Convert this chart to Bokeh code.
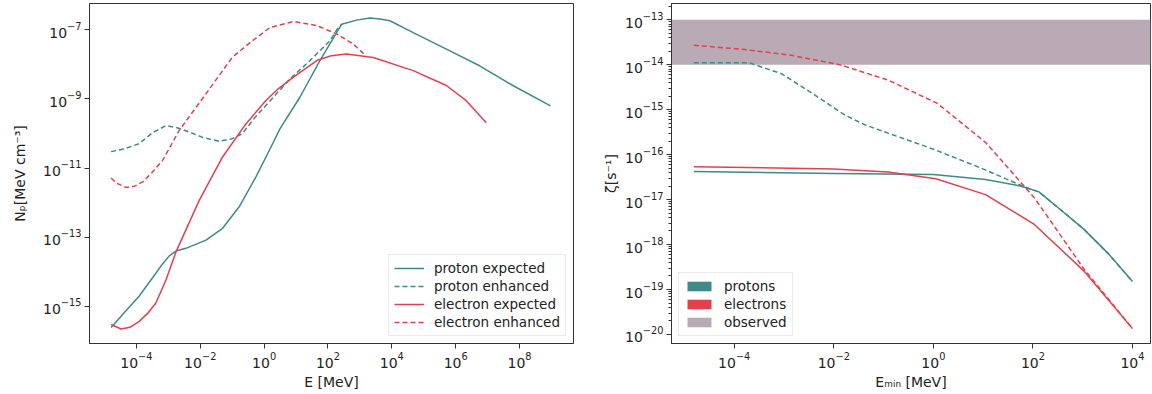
from bokeh.plotting import figure
from bokeh.layouts import row
from bokeh.models import FixedTicker, BoxAnnotation, Legend, LegendItem, Range1d
from bokeh.embed import file_html
from bokeh.resources import INLINE

# ---------------- data: left panel (spectra) ----------------
E_p_exp = [1.62e-5, 3.7e-5, 1.23e-4, 4.07e-4, 6.6e-4, 1.07e-3, 1.74e-3, 3.55e-3, 1.51e-2, 5.0e-2, 0.166, 0.55, 1.45,
           3.16, 13.2, 56, 269, 794, 2040, 4270, 8710, 4.68e4, 5.13e5, 5.62e6, 6.17e7, 9.33e8]
N_p_exp = [2.45e-16, 5.9e-16, 2.0e-15, 9.1e-15, 1.7e-14, 2.9e-14, 4.0e-14, 4.8e-14, 8.3e-14, 1.82e-13, 7.6e-13, 5.5e-12,
           3.24e-11, 1.38e-10, 1.12e-9, 1.29e-8, 1.45e-7, 1.9e-7, 2.19e-7, 2.04e-7, 1.82e-7, 8.3e-8, 2.75e-8,
           9.1e-9, 2.45e-9, 6.3e-10]

E_p_enh = [1.62e-5, 3.98e-5, 1.23e-4, 3.16e-4, 8.5e-4, 2.0e-3, 4.57e-3, 1.26e-2, 3.89e-2, 0.1,
           0.209, 0.5, 1.55, 6.46, 27.5, 115, 195, 269]
N_p_enh = [3.0e-11, 3.55e-11, 5.1e-11, 1.05e-10, 1.7e-10, 1.45e-10, 1.1e-10, 7.6e-11, 6.0e-11, 7.1e-11,
           1.0e-10, 2.8e-10, 8.9e-10, 3.8e-9, 1.29e-8, 4.8e-8, 1.05e-7, 1.45e-7]

E_e_exp = [1.62e-5, 3.31e-5, 6.3e-5, 1.23e-4, 2.24e-4, 4.07e-4, 8.5e-4, 1.74e-3, 9.3e-3, 5.0e-2, 0.269,
           1.12, 2.82, 8.3, 44.7, 126, 380, 2630, 4.68e4, 5.13e5, 2.14e6, 9.1e6]
N_e_exp = [3.0e-16, 2.24e-16, 2.5e-16, 3.7e-16, 6.3e-16, 1.26e-15, 5.9e-15, 3.8e-14, 1.17e-12, 2.1e-11, 1.9e-10,
           8.9e-10, 2.0e-9, 4.27e-9, 1.29e-8, 1.78e-8, 2.0e-8, 1.58e-8, 6.6e-9, 2.45e-9, 8.9e-10, 2.04e-10]

E_e_enh = [1.62e-5, 2.34e-5, 4.8e-5, 8.7e-5, 1.58e-4, 3.24e-4, 6.6e-4, 2.19e-3, 1.05e-2, 0.1, 0.363,
           1.55, 8.3, 44.7, 186, 617, 1450]
N_e_enh = [5.2e-12, 3.7e-12, 2.75e-12, 3.0e-12, 4.0e-12, 7.8e-12, 1.66e-11, 1.23e-10, 8.9e-10, 1.58e-8, 4.27e-8,
           1.17e-7, 1.74e-7, 1.32e-7, 7.6e-8, 3.9e-8, 1.86e-8]

left_xticks = [1e-4, 1e-2, 1e0, 1e2, 1e4, 1e6, 1e8]
left_yticks = [1e-15, 1e-13, 1e-11, 1e-9, 1e-7]

# ---------------- data: right panel (ionisation rates) ----------------
Emin_p_exp = [1.55e-5, 1e-2, 1.0, 11.2, 56, 132, 355, 1050, 3300, 1e4]
Z_p_exp = [4.2e-17, 3.8e-17, 3.6e-17, 2.8e-17, 2.0e-17, 1.48e-17, 6.0e-18, 2.2e-18, 6.2e-19, 1.5e-19]

Emin_p_enh = [1.55e-5, 2e-4, 8.9e-4, 4.2e-3, 1.66e-2, 4.2e-2, 0.123, 0.56, 1.05, 10.5,
              62, 132, 355, 1050, 3300, 1e4]
Z_p_enh = [1.1e-14, 1.1e-14, 6.3e-15, 2.1e-15, 7.6e-16, 4.6e-16, 3.0e-16, 1.66e-16, 1.29e-16, 4.7e-17,
           2.0e-17, 1.48e-17, 6.0e-18, 2.2e-18, 6.2e-19, 1.5e-19]

Emin_e_exp = [1.55e-5, 1e-2, 0.123, 1.12, 11.2, 107, 1050, 1e4]
Z_e_exp = [5.4e-17, 4.8e-17, 4.1e-17, 2.9e-17, 1.29e-17, 2.8e-18, 2.6e-19, 1.35e-20]

Emin_e_enh = [1.55e-5, 1.45e-4, 1.38e-3, 1.32e-2, 0.126, 1.2, 11.5, 110, 1050, 1e4]
Z_e_enh = [2.7e-14, 2.2e-14, 1.62e-14, 1.0e-14, 4.5e-15, 1.38e-15, 1.82e-16, 1.05e-17, 2.9e-19, 1.35e-20]

observed = [1e-14, 1e-13]

right_xticks = [1e-4, 1e-2, 1e0, 1e2, 1e4]
right_yticks = [1e-20, 1e-19, 1e-18, 1e-17, 1e-16, 1e-15, 1e-14, 1e-13]

TEAL = "#3d8a87"
RED = "#e3404d"
OBS = "#b9aab5"
FONT = "DejaVu Sans"
AX = "#333333"
TXT = "#222222"
NAN = float("nan")


def style(p, ylabel_standoff):
    p.grid.visible = False
    p.outline_line_color = AX
    p.outline_line_width = 1
    for ax in (p.xaxis[0], p.yaxis[0]):
        ax.axis_line_color = AX
        ax.major_tick_line_color = AX
        ax.minor_tick_line_color = AX
        ax.major_tick_out = 5
        ax.major_tick_in = 0
        ax.minor_tick_out = 3
        ax.minor_tick_in = 0
        ax.major_label_text_font = FONT
        ax.major_label_text_font_size = "14px"
        ax.major_label_text_color = TXT
        ax.axis_label_text_font = FONT
        ax.axis_label_text_font_size = "14px"
        ax.axis_label_text_font_style = "normal"
        ax.axis_label_text_color = TXT
        ax.major_label_standoff = 3
        ax.axis_label_standoff = 3
    p.yaxis[0].axis_label_standoff = ylabel_standoff


H = 392

# ---------------- left figure ----------------
p1 = figure(width=600, height=H, x_axis_type="log", y_axis_type="log",
            x_range=Range1d(3.4e-6, 4.9e9), y_range=Range1d(8.5e-17, 5.75e-7),
            output_backend="svg", toolbar_location=None,
            min_border_left=89, min_border_right=27, min_border_top=3, min_border_bottom=46)
style(p1, 12)
p1.xaxis.ticker = FixedTicker(ticks=left_xticks, minor_ticks=[])
p1.yaxis.ticker = FixedTicker(ticks=left_yticks, minor_ticks=[])
p1.xaxis.axis_label = "E [MeV]"
p1.yaxis.axis_label = "Nₚ[MeV cm⁻³]"

r1 = p1.line(E_p_exp, N_p_exp, line_color=TEAL, line_width=1.5)
r2 = p1.line(E_p_enh, N_p_enh, line_color=TEAL, line_width=1.5, line_dash="5 3")
r3 = p1.line(E_e_exp, N_e_exp, line_color=RED, line_width=1.5)
r4 = p1.line(E_e_enh, N_e_enh, line_color=RED, line_width=1.5, line_dash="5 3")

leg1 = Legend(items=[LegendItem(label="proton expected", renderers=[r1]),
                     LegendItem(label="proton enhanced", renderers=[r2]),
                     LegendItem(label="electron expected", renderers=[r3]),
                     LegendItem(label="electron enhanced", renderers=[r4])],
              location="bottom_right")
p1.add_layout(leg1)

# ---------------- right figure ----------------
p2 = figure(width=552, height=H, x_axis_type="log", y_axis_type="log",
            x_range=Range1d(5.5e-6, 2.3e4), y_range=Range1d(6.3e-21, 2.29e-13),
            output_backend="svg", toolbar_location=None,
            min_border_left=69, min_border_right=2, min_border_top=3, min_border_bottom=46)
style(p2, 3)
minor_y = [k * d for d in right_yticks[:-1] for k in range(2, 10)] + [2e-13]
p2.xaxis.ticker = FixedTicker(ticks=right_xticks, minor_ticks=[])
p2.yaxis.ticker = FixedTicker(ticks=right_yticks, minor_ticks=minor_y)
p2.xaxis.axis_label = "Eₘᵢₙ [MeV]"
p2.yaxis.axis_label = "ζ[s⁻¹]"

band = BoxAnnotation(bottom=observed[0], top=observed[1], fill_color=OBS, fill_alpha=1.0,
                     line_color=None, level="underlay")
p2.add_layout(band)

p2.line(Emin_p_exp, Z_p_exp, line_color=TEAL, line_width=1.5)
p2.line(Emin_p_enh, Z_p_enh, line_color=TEAL, line_width=1.5, line_dash="5 3")
p2.line(Emin_e_exp, Z_e_exp, line_color=RED, line_width=1.5)
p2.line(Emin_e_enh, Z_e_enh, line_color=RED, line_width=1.5, line_dash="5 3")

# legend swatches (invisible quads, used only for the legend)
q1 = p2.quad(left=[NAN], right=[NAN], top=[NAN], bottom=[NAN], fill_color=TEAL, line_color=None)
q2 = p2.quad(left=[NAN], right=[NAN], top=[NAN], bottom=[NAN], fill_color=RED, line_color=None)
q3 = p2.quad(left=[NAN], right=[NAN], top=[NAN], bottom=[NAN], fill_color=OBS, line_color=None)
leg2 = Legend(items=[LegendItem(label="protons", renderers=[q1]),
                     LegendItem(label="electrons", renderers=[q2]),
                     LegendItem(label="observed", renderers=[q3])],
              location="bottom_left")
p2.add_layout(leg2)

for lg in (leg1, leg2):
    lg.label_text_font = FONT
    lg.label_text_font_size = "13.5px"
    lg.label_text_color = TXT
    lg.border_line_color = "#d6d6d6"
    lg.background_fill_alpha = 0.85
    lg.margin = 7
    lg.padding = 5
    lg.spacing = 2
    lg.label_height = 14
    lg.glyph_height = 12
    lg.glyph_width = 30
    lg.label_standoff = 10

layout = row(p1, p2)
open("out.html", "w").write(file_html(layout, INLINE))
